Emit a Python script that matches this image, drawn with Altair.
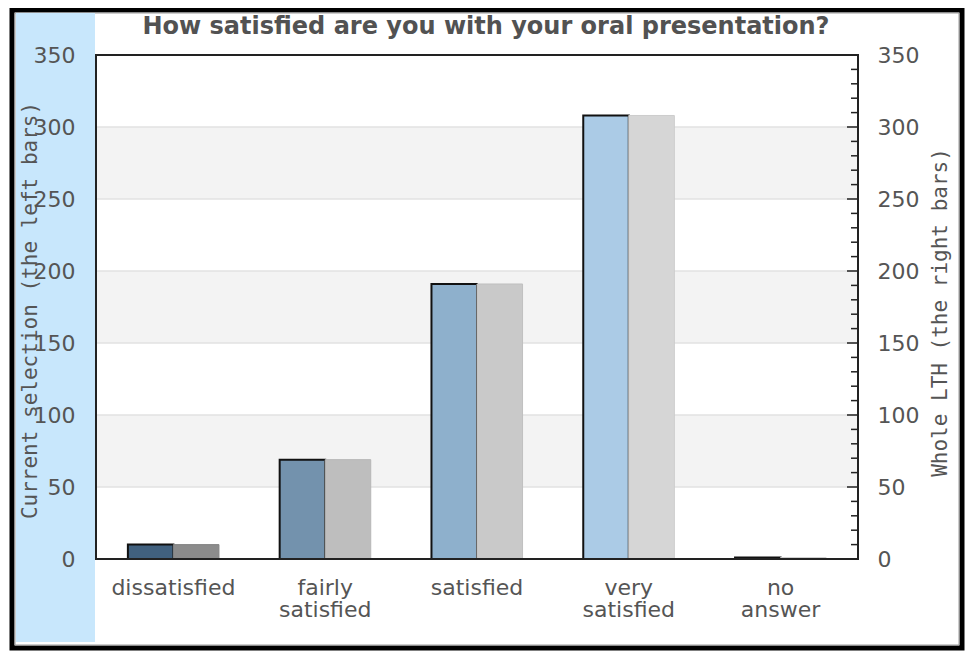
import altair as alt
import pandas as pd

# ---- data ----
categories = ["dissatisfied", "fairly satisfied", "satisfied", "very satisfied", "no answer"]
current_values = [10, 69, 191, 308, 1]
whole_values = [10, 69, 191, 308, 1]
current_colors = ["#41617f", "#7392ad", "#8eb0cc", "#abcbe6", "#1a1a1a"]
whole_colors = ["#8c8c8c", "#bebebe", "#c9c9c9", "#d6d6d6", "#d9d9d9"]
whole_edges = ["#858585", "#b6b6b6", "#c0c0c0", "#cccccc", "#cfcfcf"]
y_ticks = [0, 50, 100, 150, 200, 250, 300, 350]
grid_values = [50, 100, 150, 200, 250, 300]
band_lo = [50, 150, 250]
band_hi = [100, 200, 300]
minor_ticks = [0, 10, 20, 30, 40, 60, 70, 80, 90, 110, 120, 130, 140, 160, 170, 180, 190,
               210, 220, 230, 240, 260, 270, 280, 290, 310, 320, 330, 340, 350]
major_ticks = [50, 100, 150, 200, 250, 300]

chart_title = "How satisfied are you with your oral presentation?"
left_title = "Current selection (the left bars)"
right_title = "Whole LTH (the right bars)"

W, H = 762, 504
LABEL_COLOR = "#555555"

bars_df = pd.DataFrame({
    "category": categories + categories,
    "series": ["current"] * len(categories) + ["whole"] * len(categories),
    "value": current_values + whole_values,
    "color": current_colors + whole_colors,
    "edge": ["#111111"] * len(categories) + whole_edges,
    "sw": [2.0] * len(categories) + [1.0] * len(categories),
})
band_df = pd.DataFrame({"lo": band_lo, "hi": band_hi})
grid_df = pd.DataFrame({"v": grid_values})
minor_df = pd.DataFrame({"v": minor_ticks})
major_df = pd.DataFrame({"v": major_ticks})
one = pd.DataFrame({"a": [0]})
title_df = pd.DataFrame({"t": [chart_title]})

yscale = alt.Scale(domain=[0, 350], nice=False, zero=True)
xscale = alt.Scale(domain=categories, paddingInner=0.40, paddingOuter=0.21)

# decorative frame and left strip
frame = alt.Chart(one).mark_rect(fillOpacity=0, stroke="black", strokeWidth=5).encode(
    x=alt.value(-84), x2=alt.value(866), y=alt.value(-45), y2=alt.value(593))
inner_line = alt.Chart(one).mark_rect(fillOpacity=0, stroke="#9a9a9a", strokeWidth=1).encode(
    x=alt.value(-81), x2=alt.value(863), y=alt.value(-42), y2=alt.value(590))
strip = alt.Chart(one).mark_rect(fill="#c8e7fc").encode(
    x=alt.value(-80), x2=alt.value(-1), y=alt.value(-42), y2=alt.value(587))
title_mark = alt.Chart(title_df).mark_text(
    font="DejaVu Sans", fontSize=24, fontWeight="bold", color="#525252",
    align="center", baseline="alphabetic").encode(
    text="t:N", x=alt.value(390), y=alt.value(-21))

bands = alt.Chart(band_df).mark_rect(fill="#f3f3f3").encode(
    y=alt.Y("lo:Q", scale=yscale, axis=None), y2="hi:Q",
    x=alt.value(0), x2=alt.value(W))
grid = alt.Chart(grid_df).mark_rule(color="#e2e2e2", strokeWidth=1.5).encode(
    y=alt.Y("v:Q", scale=yscale, axis=None), x=alt.value(0), x2=alt.value(W))

bars = alt.Chart(bars_df).mark_bar().encode(
    x=alt.X("category:N", sort=categories, scale=xscale,
            axis=alt.Axis(title=None, labelAngle=0, ticks=False, domain=False,
                          labelPadding=18, labelFont="DejaVu Sans", labelFontSize=22,
                          labelColor=LABEL_COLOR, labelLineHeight=22,
                          labelExpr="split(datum.label, ' ')", zindex=1)),
    xOffset=alt.XOffset("series:N", scale=alt.Scale(domain=["current", "whole"],
                                                    paddingInner=0, paddingOuter=0)),
    y=alt.Y("value:Q", scale=yscale,
            axis=alt.Axis(orient="left", values=y_ticks, grid=False, ticks=False,
                          domain=False, labelPadding=21, labelFont="DejaVu Sans",
                          labelFontSize=22, labelColor=LABEL_COLOR,
                          title=left_title, titleFont="DejaVu Sans Mono", titleFontSize=21,
                          titleFontWeight="normal", titleColor=LABEL_COLOR,
                          titleAngle=270, titleAlign="center", titleBaseline="middle",
                          titleX=-66, titleY=255, zindex=1)),
    color=alt.Color("color:N", scale=None),
    stroke=alt.Stroke("edge:N", scale=None),
    strokeWidth=alt.StrokeWidth("sw:Q", scale=None),
)

minor = alt.Chart(minor_df).mark_rule(color="#222222", strokeWidth=1.5).encode(
    y=alt.Y("v:Q", scale=yscale,
            axis=alt.Axis(orient="right", values=y_ticks, grid=False, ticks=False,
                          domain=False, labelPadding=19, labelFont="DejaVu Sans",
                          labelFontSize=22, labelColor=LABEL_COLOR,
                          title=right_title, titleFont="DejaVu Sans Mono", titleFontSize=21,
                          titleFontWeight="normal", titleColor=LABEL_COLOR,
                          titleAngle=270, titleAlign="center", titleBaseline="middle",
                          titleX=82, titleY=257, zindex=1)),
    x=alt.value(W - 7), x2=alt.value(W))
major = alt.Chart(major_df).mark_rule(color="#222222", strokeWidth=1.5).encode(
    y=alt.Y("v:Q", scale=yscale, axis=None), x=alt.value(W - 11), x2=alt.value(W))

border = alt.Chart(one).mark_rect(fillOpacity=0, stroke="#222222", strokeWidth=2).encode(
    x=alt.value(0), x2=alt.value(W), y=alt.value(0), y2=alt.value(H))

chart = alt.layer(frame, inner_line, strip, title_mark, bands, grid, bars, minor, major,
                  border).resolve_axis(
    y="independent"
).properties(
    width=W, height=H,
    autosize=alt.AutoSizeParams(type="none"),
    padding={"left": 88, "top": 47, "right": 107, "bottom": 93},
    background="white",
).configure_view(strokeWidth=0)

chart.save("out.html", embed_options={"renderer": "svg", "actions": False})
